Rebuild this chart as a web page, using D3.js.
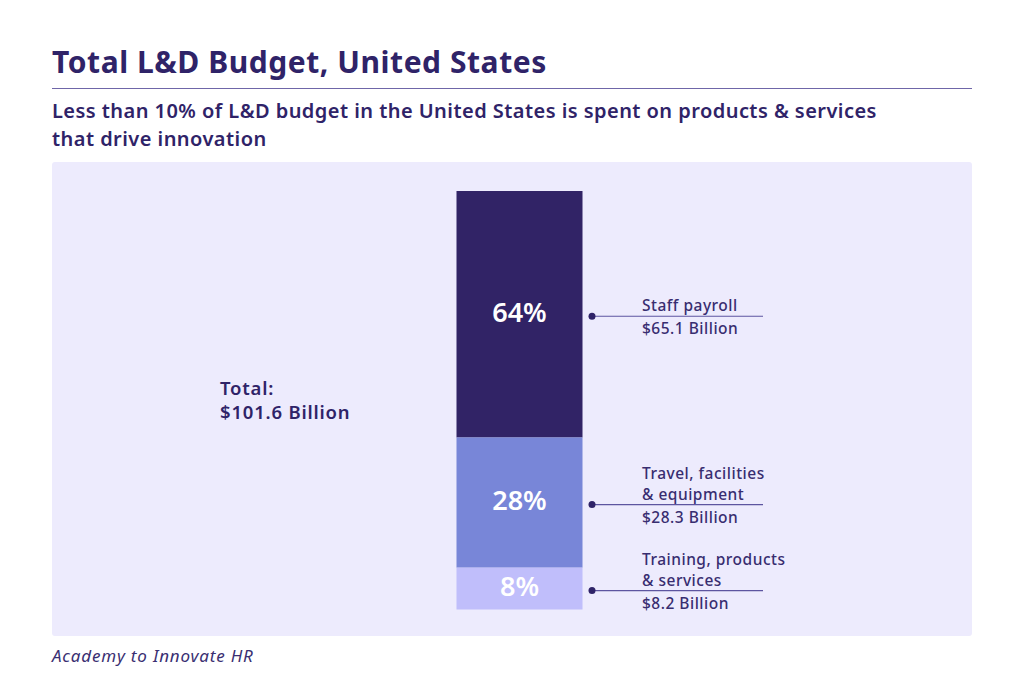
<!DOCTYPE html>
<meta charset="utf-8">
<style>
    body { margin: 0; background: #fff; }
    text { font-family: "Noto Sans", "Open Sans", sans-serif; }
</style>
<body>
<script src="https://d3js.org/d3.v7.min.js"></script>
<script>

    // data read from the graphic
    var categories = ["Staff payroll", "Travel, facilities\n& equipment", "Training, products\n& services"];
    var shares = [64, 28, 8];
    var billions = [65.1, 28.3, 8.2];
    // segment heights as drawn in the original (share of bar height)
    var drawnShares = [58.9, 31.1, 10.0];
    var colors = ["#312366", "#7886d8", "#c0befb"];
    var totalLabel = ["Total:", "$101.6 Billion"];

    var width = 1024, height = 680;
    var ink = "#2f2368";

    var svg = d3.select("body").append("svg")
        .attr("width", width)
        .attr("height", height);

    // header
    svg.append("text")
        .attr("x", 52).attr("y", 73)
        .attr("fill", ink)
        .style("font-size", "30px").style("font-weight", 700)
        .style("letter-spacing", "0.55px")
        .text("Total L&D Budget, United States");

    svg.append("line")
        .attr("x1", 52).attr("x2", 972)
        .attr("y1", 88.5).attr("y2", 88.5)
        .attr("stroke", "#6f66a8").attr("stroke-width", 1);

    svg.append("text")
        .attr("fill", ink)
        .style("font-size", "20px").style("font-weight", 600)
        .style("letter-spacing", "0.45px")
        .selectAll("tspan")
        .data(["Less than 10% of L&D budget in the United States is spent on products & services", "that drive innovation"])
        .join("tspan")
        .attr("x", 52)
        .attr("y", function (d, i) { return 118 + i * 28; })
        .text(function (d) { return d; });

    // panel
    svg.append("rect")
        .attr("x", 52).attr("y", 162)
        .attr("width", 920).attr("height", 474)
        .attr("rx", 3)
        .attr("fill", "#edebfd");

    // stacked bar
    var y = d3.scaleLinear()
        .domain([0, d3.sum(drawnShares)])
        .range([191, 609.5]);

    var stack = [];
    var acc = 0;
    drawnShares.forEach(function (v, i) {
        stack.push({ y0: acc, y1: acc + v, share: shares[i], name: categories[i], value: billions[i], color: colors[i] });
        acc += v;
    });

    var barX = 456.5, barW = 126;

    var seg = svg.append("g").selectAll("g")
        .data(stack)
        .join("g");

    seg.append("rect")
        .attr("x", barX)
        .attr("y", function (d) { return y(d.y0); })
        .attr("width", barW)
        .attr("height", function (d) { return y(d.y1) - y(d.y0); })
        .attr("fill", function (d) { return d.color; });

    seg.append("text")
        .attr("x", barX + barW / 2)
        .attr("y", function (d) { return (y(d.y0) + y(d.y1)) / 2 + 7.5; })
        .attr("text-anchor", "middle")
        .attr("fill", "#fff")
        .style("font-size", "27px").style("font-weight", 600)
        .text(function (d) { return d.share + "%"; });

    // callouts
    function cy(d) { return (y(d.y0) + y(d.y1)) / 2 + 2; }

    seg.append("line")
        .attr("x1", 592).attr("x2", 763)
        .attr("y1", cy).attr("y2", cy)
        .attr("stroke", "#5d55a0").attr("stroke-width", 1.2);

    seg.append("circle")
        .attr("cx", 592).attr("cy", cy)
        .attr("r", 3.5)
        .attr("fill", "#2f2368");

    seg.each(function (d) {
        var g = d3.select(this);
        var lines = d.name.split("\n");
        var base = cy(d);
        g.append("text")
            .attr("fill", "#382d70")
            .style("font-size", "15.5px").style("font-weight", 500)
            .style("letter-spacing", "0.5px")
            .selectAll("tspan")
            .data(lines)
            .join("tspan")
            .attr("x", 642)
            .attr("y", function (t, i) { return base - 5 - (lines.length - 1 - i) * 21; })
            .text(function (t) { return t; });
        g.append("text")
            .attr("x", 642).attr("y", base + 18)
            .attr("fill", "#382d70")
            .style("font-size", "15.5px").style("font-weight", 500)
            .style("letter-spacing", "0.5px")
            .text("$" + d.value + " Billion");
    });

    // total
    svg.append("text")
        .attr("fill", ink)
        .style("font-size", "18.5px").style("font-weight", 600)
        .style("letter-spacing", "0.8px")
        .selectAll("tspan")
        .data(totalLabel)
        .join("tspan")
        .attr("x", 220)
        .attr("y", function (d, i) { return 395 + i * 24; })
        .text(function (d) { return d; });

    // source
    svg.append("text")
        .attr("x", 52).attr("y", 662)
        .attr("fill", "#3a2f72")
        .style("font-size", "17px").style("font-style", "italic")
        .style("letter-spacing", "0.8px")
        .text("Academy to Innovate HR");

</script>
</body>
